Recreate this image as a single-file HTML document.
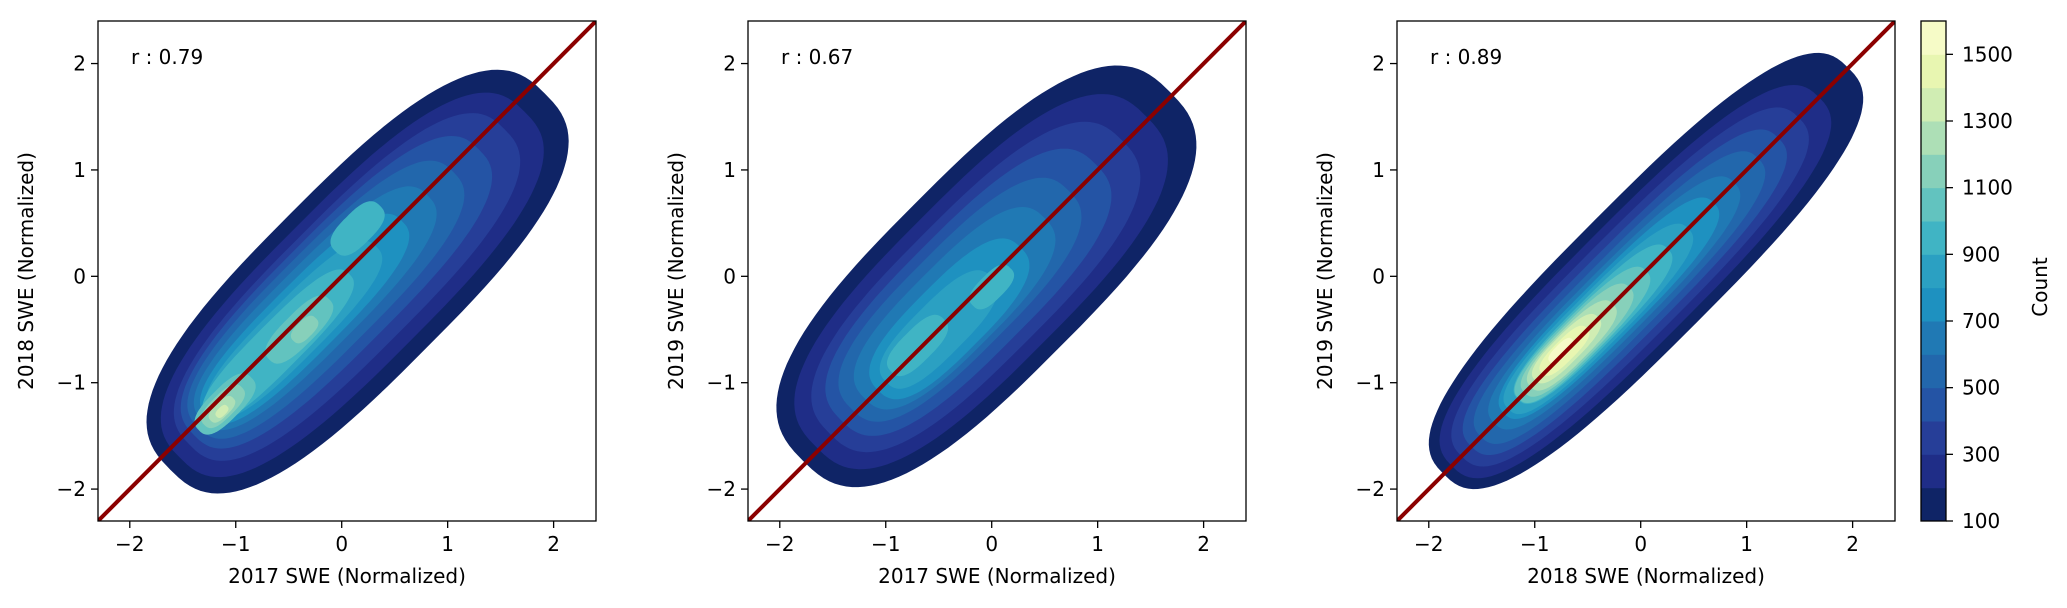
<!DOCTYPE html>
<html><head><meta charset="utf-8"><style>
html,body{margin:0;padding:0;background:#fff;}
svg{display:block;font-family:"DejaVu Sans","Liberation Sans",sans-serif;}
</style></head><body>
<svg id="fig" width="2067" height="608" viewBox="0 0 2067 608" xmlns="http://www.w3.org/2000/svg"></svg>
<script>
// ---- data ----
const levels = [100,200,300,400,500,600,700,800,900,1000,1100,1200,1300,1400,1500,1600];
const colors = ["#0f2466","#1f2d87","#263e98","#2454a5","#2267ac","#2079b4","#1e91c0","#2ba0c2","#40b4c4","#62c3bf","#87d0ba","#addfb6","#d0edb3","#e8f6b1","#f6fbc7"];
const cbTicks = [100,300,500,700,900,1100,1300,1500];
const axisTicks = [-2,-1,0,1,2];
const rValues = ["0.79","0.67","0.89"];
const xLabels = ["2017 SWE (Normalized)","2017 SWE (Normalized)","2018 SWE (Normalized)"];
const yLabels = ["2018 SWE (Normalized)","2019 SWE (Normalized)","2019 SWE (Normalized)"];
// blobs per panel: level index, center x, center y, half-length (diagonal), half-width
const p1Level = [0,1,2,3,4,5,6,7,8,8,9,9,10,10,11,12];
const p1Cx = [0.15,0.1,0.05,-0.05,-0.15,-0.25,-0.35,-0.45,-0.6,0.15,-0.4,-1.1,-0.35,-1.12,-1.13,-1.13];
const p1Cy = [-0.05,-0.08,-0.1,-0.15,-0.22,-0.3,-0.4,-0.5,-0.65,0.45,-0.5,-1.2,-0.5,-1.22,-1.25,-1.27];
const p1Hl = [2.5,2.3,2.1,1.9,1.7,1.5,1.3,1.1,0.95,0.3,0.4,0.35,0.15,0.25,0.15,0.07];
const p1Hw = [0.9,0.76,0.65,0.56,0.48,0.4,0.33,0.27,0.22,0.15,0.15,0.15,0.08,0.11,0.07,0.04];
const p2Level = [0,1,2,3,4,5,6,7,8,8];
const p2Cx = [-0.05,-0.1,-0.15,-0.22,-0.3,-0.35,-0.4,-0.5,-0.7,0.0];
const p2Cy = [0.0,-0.05,-0.1,-0.15,-0.22,-0.3,-0.4,-0.5,-0.65,-0.1];
const p2Hl = [2.45,2.2,1.95,1.7,1.45,1.2,0.95,0.7,0.35,0.25];
const p2Hw = [0.96,0.82,0.7,0.6,0.5,0.42,0.34,0.25,0.15,0.12];
const p3Level = [0,1,2,3,4,5,6,7,8,9,10,11,12,13,14];
const p3Cx = [0.05,-0.05,-0.1,-0.15,-0.2,-0.25,-0.3,-0.4,-0.45,-0.55,-0.6,-0.65,-0.7,-0.72,-0.75];
const p3Cy = [0.05,-0.05,-0.1,-0.15,-0.2,-0.25,-0.3,-0.4,-0.45,-0.55,-0.6,-0.65,-0.68,-0.7,-0.7];
const p3Hl = [2.7,2.45,2.25,2.05,1.85,1.6,1.4,1.2,1.0,0.85,0.7,0.55,0.42,0.3,0.15];
const p3Hw = [0.68,0.58,0.5,0.43,0.37,0.32,0.28,0.25,0.22,0.2,0.18,0.16,0.13,0.1,0.06];

const NS="http://www.w3.org/2000/svg";
const svg=document.getElementById('fig');
function mk(tag,attrs,parent){const e=document.createElementNS(NS,tag);for(const k in attrs)e.setAttribute(k,attrs[k]);(parent||svg).appendChild(e);return e;}
const XMIN=-2.3,XMAX=2.4,YMIN=-2.3,YMAX=2.4;
const AW=498,AH=500,AT=21;
const panelLefts=[98,748,1397];
const panels=[
 [p1Level,p1Cx,p1Cy,p1Hl,p1Hw],
 [p2Level,p2Cx,p2Cy,p2Hl,p2Hw],
 [p3Level,p3Cx,p3Cy,p3Hl,p3Hw]];
panels.forEach((pd,pi)=>{
  const L=panelLefts[pi];
  const sx=v=>L+(v-XMIN)/(XMAX-XMIN)*AW;
  const sy=v=>AT+AH-(v-YMIN)/(YMAX-YMIN)*AH;
  const g=mk('g',{});
  
  
  const cid='clip'+pi;
  const cp=mk('clipPath',{id:cid},g);mk('rect',{x:L,y:AT,width:AW,height:AH},cp);
  const cg=mk('g',{'clip-path':'url(#'+cid+')'},g);
  
  
  const [lv,cx,cy,hl,hw]=pd;
  const order=lv.map((v,i)=>i).sort((a,b)=>lv[a]-lv[b]);
  const s=Math.SQRT1_2, P=2.8;
  order.forEach(i=>{
    let pts=[];
    for(let k=0;k<120;k++){
      const t=k/120*2*Math.PI,c=Math.cos(t),sn=Math.sin(t);
      const a=hl[i]*Math.sign(c)*Math.pow(Math.abs(c),2/P);
      const b=hw[i]*Math.sign(sn)*Math.pow(Math.abs(sn),2/P);
      const x=cx[i]+a*s-b*s, y=cy[i]+a*s+b*s;
      pts.push(sx(x).toFixed(1)+','+sy(y).toFixed(1));
    }
    const poly=mk('polygon',{points:pts.join(' '),fill:colors[lv[i]]},cg);
    
    
  });
  const dl=mk('line',{x1:sx(XMIN),y1:sy(YMIN),x2:sx(XMAX),y2:sy(YMAX),stroke:'#8b0000','stroke-width':4},cg);
  
  
  const fr=mk('rect',{x:L,y:AT,width:AW,height:AH,fill:'none',stroke:'#000','stroke-width':1.3},g);
  
  
  axisTicks.forEach(v=>{
    const X=sx(v);
    mk('line',{x1:X,y1:AT+AH,x2:X,y2:AT+AH+7,stroke:'#000','stroke-width':1.3},g);
    const tx=mk('text',{x:X,y:AT+AH+30,'text-anchor':'middle','font-size':20,fill:'#000'},g);
    tx.textContent=(v<0?'\u2212':'')+Math.abs(v);
    
    
    const Y=sy(v);
    mk('line',{x1:L,y1:Y,x2:L-7,y2:Y,stroke:'#000','stroke-width':1.3},g);
    const ty=mk('text',{x:L-12,y:Y+7,'text-anchor':'end','font-size':20,fill:'#000'},g);
    ty.textContent=(v<0?'\u2212':'')+Math.abs(v);
    
    
  });
  const xl=mk('text',{x:L+AW/2,y:AT+AH+62,'text-anchor':'middle','font-size':20,fill:'#000'},g);
  xl.textContent=xLabels[pi];
  
  
  const yl=mk('text',{x:0,y:0,'text-anchor':'middle','font-size':20,fill:'#000',transform:'translate('+(L-65)+','+(AT+AH/2)+') rotate(-90)'},g);
  yl.textContent=yLabels[pi];
  
  
  const rt=mk('text',{x:L+33,y:AT+43,'font-size':20,fill:'#000'},g);
  rt.textContent='r : '+rValues[pi];
  
  
});
// colorbar
const CBX=1921,CBW=25;
const cb=mk('g',{});


const cy=v=>AT+AH-(v-levels[0])/(levels[levels.length-1]-levels[0])*AH;
colors.forEach((c,i)=>{
  const r=mk('rect',{x:CBX,y:cy(levels[i+1]),width:CBW,height:cy(levels[i])-cy(levels[i+1])+0.5,fill:c},cb);
  
  
});
mk('rect',{x:CBX,y:AT,width:CBW,height:AH,fill:'none',stroke:'#000','stroke-width':1.3},cb);
cbTicks.forEach(v=>{
  const Y=cy(v);
  mk('line',{x1:CBX+CBW,y1:Y,x2:CBX+CBW+7,y2:Y,stroke:'#000','stroke-width':1.3},cb);
  const t=mk('text',{x:CBX+CBW+16,y:Y+7,'font-size':20,fill:'#000'},cb);
  t.textContent=v;
  
  
});
const ct=mk('text',{x:0,y:0,'text-anchor':'middle','font-size':20,fill:'#000',transform:'translate(2047,287) rotate(-90)'},cb);
ct.textContent='Count';


</script>
</body></html>
